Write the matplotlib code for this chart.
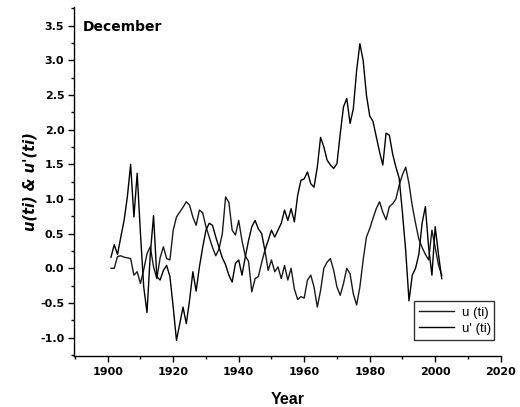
import matplotlib
matplotlib.use("Agg")
import matplotlib.pyplot as plt
from matplotlib.ticker import MultipleLocator

years = list(range(1901, 2003))

u_ti = [0.00, 0.00, 0.17, 0.18, 0.16, 0.15, 0.14, -0.10, -0.05, -0.22,
        -0.02, 0.21, 0.31, 0.02, -0.15, 0.15, 0.31, 0.14, 0.12, 0.55,
        0.74, 0.81, 0.88, 0.96, 0.91, 0.74, 0.62, 0.84, 0.80, 0.60,
        0.45, 0.30, 0.18, 0.28, 0.50, 1.03, 0.95, 0.55, 0.48, 0.69,
        0.40, 0.18, 0.10, -0.34, -0.15, -0.12, 0.08, 0.26, -0.03, 0.12,
        -0.05, 0.02, -0.15, 0.04, -0.17, 0.00, -0.30, -0.45, -0.41, -0.43,
        -0.17, -0.10, -0.27, -0.56, -0.32, 0.00, 0.09, 0.14, -0.03, -0.27,
        -0.39, -0.22, 0.00, -0.08, -0.37, -0.53, -0.27, 0.12, 0.45, 0.57,
        0.72, 0.86, 0.96, 0.81, 0.70, 0.89, 0.93, 1.00, 1.20, 1.35,
        1.46, 1.22, 0.90, 0.65, 0.42, 0.30, 0.20, 0.12, 0.55, 0.30,
        0.05, -0.10]

u_prime_ti = [0.16, 0.34, 0.20, 0.45, 0.69, 1.03, 1.50, 0.74, 1.37, 0.50,
              -0.27, -0.64, 0.20, 0.76, -0.12, -0.17, -0.03, 0.04, -0.12, -0.56,
              -1.04, -0.80, -0.56, -0.80, -0.46, -0.05, -0.33, 0.02, 0.30, 0.55,
              0.65, 0.62, 0.45, 0.30, 0.15, 0.05, -0.10, -0.20, 0.07, 0.12,
              -0.10, 0.16, 0.40, 0.60, 0.69, 0.57, 0.50, 0.26, 0.40, 0.55,
              0.45, 0.55, 0.65, 0.84, 0.69, 0.86, 0.67, 1.05, 1.27, 1.29,
              1.39, 1.22, 1.17, 1.46, 1.89, 1.75, 1.56, 1.49, 1.44, 1.51,
              1.94, 2.33, 2.45, 2.09, 2.30, 2.85, 3.24, 3.00, 2.50, 2.20,
              2.12, 1.90, 1.68, 1.49, 1.95, 1.92, 1.65, 1.46, 1.30, 0.80,
              0.25, -0.47, -0.10, 0.00, 0.20, 0.65, 0.89, 0.30, -0.10, 0.60,
              0.20, -0.15]

series_labels = ["u (ti)", "u' (ti)"]
xticks = [1900, 1920, 1940, 1960, 1980, 2000, 2020]
yticks = [-1.0, -0.5, 0.0, 0.5, 1.0, 1.5, 2.0, 2.5, 3.0, 3.5]

plt.rcParams['font.family'] = ['DejaVu Sans']

W, H = 520, 407
fig = plt.figure(figsize=(W / 100, H / 100), dpi=100)
# axes box in pixels: left 74.3, right 500.7, top 7, bottom 356
ax = fig.add_axes([74.3 / W, (H - 356) / H, (500.7 - 74.3) / W, (356 - 7) / H])

ax.plot(years, u_ti, color='#1a1a1a', lw=1.0, label=series_labels[0])
ax.plot(years, u_prime_ti, color='#000000', lw=1.0, label=series_labels[1])

ax.set_xlim(1889.8, 2020)
ax.set_ylim(-1.266, 3.77)
ax.set_xticks(xticks)
ax.set_yticks(yticks)
ax.xaxis.set_minor_locator(MultipleLocator(10))
ax.yaxis.set_minor_locator(MultipleLocator(0.25))
ax.set_xticklabels([str(v) for v in xticks], fontsize=8, fontweight='bold')
ax.set_yticklabels([f"{v:.1f}" for v in yticks], fontsize=8, fontweight='bold')
ax.tick_params(axis='x', which='major', direction='out', length=4.2, width=1, pad=4)
ax.tick_params(axis='y', which='major', direction='out', length=4.2, width=1, pad=3)
ax.tick_params(which='minor', direction='out', length=2.5, width=1)

for s in ['top', 'right']:
    ax.spines[s].set_visible(False)
for s in ['left', 'bottom']:
    ax.spines[s].set_linewidth(1.0)

ax.set_xlabel("Year", fontsize=11.5, fontweight='bold',
              family=['Liberation Sans', 'DejaVu Sans'])
ax.xaxis.set_label_coords(0.5, (356 - 400) / 349)
ax.xaxis.label.set_va('center')

ax.set_ylabel("u(ti) & u'(ti)", fontsize=10.5, fontweight='bold', style='italic')
ax.yaxis.set_label_coords((30 - 74.3) / 426.4, 0.5)
ax.yaxis.label.set_va('center')

fig.text(83 / W, (H - 30.7) / H, "December", fontsize=10, fontweight='bold',
         va='baseline', ha='left')

leg = ax.legend(loc='lower left', mode='expand',
                bbox_to_anchor=(414 / W, (H - 340) / H, 80 / W, 40 / H),
                bbox_transform=fig.transFigure,
                prop={'family': ['Liberation Sans', 'DejaVu Sans'], 'size': 9.5},
                frameon=True, fancybox=False, edgecolor='black',
                handlelength=2.6, borderpad=0.4, labelspacing=0.3,
                handletextpad=0.6, borderaxespad=0)
leg.get_frame().set_linewidth(1.0)

fig.savefig("out.png", dpi=100)
